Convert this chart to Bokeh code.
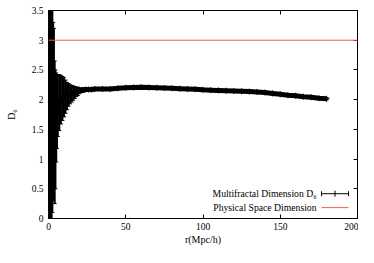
from bokeh.plotting import figure
from bokeh.models import (Range1d, LinearAxis, FixedTicker, NumeralTickFormatter,
                          CustomJSTickFormatter, Span, Whisker, TeeHead,
                          ColumnDataSource, Label, Arrow)
from bokeh.embed import file_html
from bokeh.resources import INLINE

# ---- data ----
r = [0.5, 1.0, 1.5, 2.0, 2.5, 3.0, 3.5, 4.0, 4.5, 5.0, 5.5, 6, 7, 8, 9, 10, 11, 12,
     13, 14, 15, 16, 17, 18, 19, 20, 22, 24, 26, 28, 30, 35, 40, 45, 50, 55, 60,
     65, 70, 75, 80, 85, 90, 95, 100, 105, 110, 115, 120, 125, 130, 135, 140,
     145, 150, 155, 160, 165, 170, 175, 180]
d6 = [1.8, 1.7, 2.0, 1.9, 2.0, 1.8, 1.9, 1.45, 1.5, 1.7, 1.8, 1.9, 1.95, 2.0, 2.02,
      2.04, 2.05, 2.06, 2.08, 2.09, 2.1, 2.11, 2.12, 2.13, 2.14, 2.15, 2.16, 2.17,
      2.17, 2.17, 2.18, 2.18, 2.18, 2.19, 2.2, 2.205, 2.21, 2.205, 2.2, 2.195, 2.19,
      2.185, 2.18, 2.175, 2.165, 2.16, 2.155, 2.15, 2.145, 2.14, 2.135, 2.13,
      2.12, 2.105, 2.09, 2.075, 2.065, 2.05, 2.04, 2.025, 2.015]
err = [3.0, 2.5, 2.2, 2.0, 1.9, 1.5, 1.3, 1.2, 1.0, 0.75, 0.62, 0.52, 0.47, 0.41,
       0.37, 0.33, 0.28, 0.23, 0.19, 0.16, 0.14, 0.12, 0.10, 0.08, 0.07, 0.05,
       0.04, 0.03, 0.02, 0.02, 0.02, 0.02, 0.02, 0.02, 0.02, 0.02, 0.02, 0.02,
       0.02, 0.02, 0.02, 0.02, 0.02, 0.02, 0.02, 0.02, 0.02, 0.02, 0.02, 0.02,
       0.02, 0.02, 0.02, 0.02, 0.02, 0.02, 0.02, 0.02, 0.02, 0.02, 0.02]
physical_dim = 3.0
x_ticks = [0, 50, 100, 150, 200]
y_ticks = [0, 0.5, 1, 1.5, 2, 2.5, 3, 3.5]
series_label = "Multifractal Dimension D\u2086"
line_label = "Physical Space Dimension"

# ---- style ----
FONT = "Liberation Serif"
RED = "#f4613f"

src = ColumnDataSource(dict(
    r=r, d6=d6,
    lower=[v - e for v, e in zip(d6, err)],
    upper=[v + e for v, e in zip(d6, err)],
))

p = figure(width=358, height=247, output_backend="svg", toolbar_location=None,
           x_range=Range1d(0, 200), y_range=Range1d(0, 3.5),
           min_border_left=48, min_border_right=1, min_border_top=10,
           min_border_bottom=27, background_fill_color="white",
           border_fill_color="white")
p.grid.visible = False
p.outline_line_color = "black"
p.outline_line_width = 1

for ax in (p.xaxis[0], p.yaxis[0]):
    ax.major_tick_in = 4
    ax.major_tick_out = 0
    ax.minor_tick_in = 0
    ax.minor_tick_out = 0
    ax.axis_line_color = "black"
    ax.major_tick_line_color = "black"
    ax.major_label_text_font = FONT
    ax.major_label_text_font_size = "9.5px"
    ax.major_label_text_color = "black"
    ax.axis_label_text_font = FONT
    ax.axis_label_text_font_size = "10px"
    ax.axis_label_text_font_style = "normal"
    ax.axis_label_text_color = "black"

p.xaxis[0].ticker = FixedTicker(ticks=x_ticks)
p.yaxis[0].ticker = FixedTicker(ticks=y_ticks)
p.yaxis[0].formatter = NumeralTickFormatter(format="0.[0]")
p.xaxis[0].axis_label = "r(Mpc/h)"
p.yaxis[0].axis_label = "D\u2086"
p.xaxis[0].major_label_standoff = 4
p.xaxis[0].axis_label_standoff = 1
p.yaxis[0].major_label_standoff = 5
p.yaxis[0].axis_label_standoff = 12

# mirrored ticks on top and right (no labels)
blank = CustomJSTickFormatter(code="return '';")
top = LinearAxis(ticker=FixedTicker(ticks=x_ticks), formatter=blank,
                 major_tick_in=4, major_tick_out=0, minor_tick_in=0, minor_tick_out=0,
                 major_label_text_font_size="1px", major_label_standoff=0)
right = LinearAxis(ticker=FixedTicker(ticks=y_ticks), formatter=blank,
                   major_tick_in=4, major_tick_out=0, minor_tick_in=0, minor_tick_out=0,
                   major_label_text_font_size="1px", major_label_standoff=0)
p.add_layout(top, "above")
p.add_layout(right, "right")

# physical dimension line
p.add_layout(Span(location=physical_dim, dimension="width", line_color=RED, line_width=1))

# error bars
p.add_layout(Whisker(source=src, base="r", lower="lower", upper="upper",
                     line_color="black", line_width=2,
                     upper_head=TeeHead(size=4, line_color="black", line_width=1),
                     lower_head=TeeHead(size=4, line_color="black", line_width=1)))
p.line("r", "d6", source=src, line_color="black", line_width=5)
p.scatter("r", "d6", source=src, marker="cross", size=6, line_color="black", line_width=1)

# legend (label text on the left, sample on the right, as in the reference)
LEG_TX = 173.5
LEG_X0, LEG_X1 = 176.7, 194.2
LEG_Y1, LEG_Y2 = 0.417, 0.183
p.add_layout(Label(x=LEG_TX, y=LEG_Y1, text=series_label, text_align="right",
                   text_baseline="middle", text_font=FONT, text_font_size="9.7px",
                   text_color="black"))
p.add_layout(Label(x=LEG_TX, y=LEG_Y2, text=line_label, text_align="right",
                   text_baseline="middle", text_font=FONT, text_font_size="9.7px",
                   text_color="black"))
p.add_layout(Arrow(x_start=LEG_X0, y_start=LEG_Y1, x_end=LEG_X1, y_end=LEG_Y1,
                   line_color="black", line_width=1,
                   start=TeeHead(size=5, line_color="black", line_width=1),
                   end=TeeHead(size=5, line_color="black", line_width=1)))
mid = (LEG_X0 + LEG_X1) / 2
p.add_layout(Arrow(x_start=mid, y_start=LEG_Y1 - 0.05, x_end=mid, y_end=LEG_Y1 + 0.05,
                   line_color="black", line_width=1, start=None, end=None))
p.add_layout(Arrow(x_start=LEG_X0, y_start=LEG_Y2, x_end=LEG_X1, y_end=LEG_Y2,
                   line_color=RED, line_width=1, start=None, end=None))

open("out.html", "w").write(file_html(p, INLINE))
